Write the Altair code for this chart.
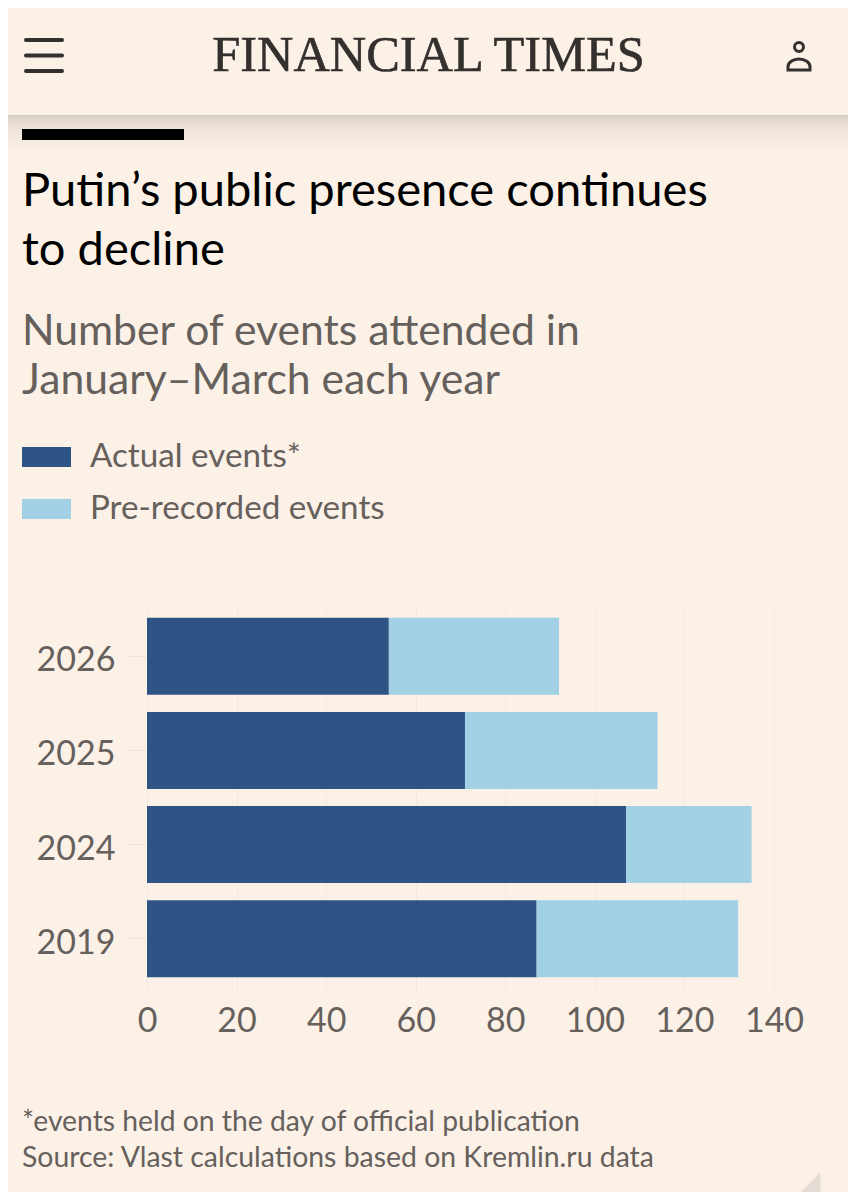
import altair as alt
import pandas as pd

years = ["2026", "2025", "2024", "2019"]
actual = [54, 71, 107, 87]
prerecorded = [38, 43, 28, 45]
x_ticks = [0, 20, 40, 60, 80, 100, 120, 140]
series = ["Actual events*", "Pre-recorded events"]

BG = "#fcf1e7"
DARK = "#2e5485"
LIGHT = "#a2d0e5"
GREY = "#66605c"
INK = "#33302e"
PX0, PY0 = 147, 605

rows = []
for y, a, p in zip(years, actual, prerecorded):
    rows.append({"year": y, "series": series[0], "value": a, "rank": 0})
    rows.append({"year": y, "series": series[1], "value": p, "rank": 1})
df = pd.DataFrame(rows)

bars = alt.Chart(df).mark_bar().encode(
    y=alt.Y("year:N", sort=years, title=None,
            scale=alt.Scale(paddingInner=0.183, paddingOuter=0.135),
            axis=alt.Axis(domain=False, ticks=True, tickSize=21, tickColor="#f0e5da", tickWidth=1,
                          labelFontSize=34, labelColor=GREY, labelFont="Lato", labelPadding=11,
                          labelBaseline="middle", labelOffset=5)),
    x=alt.X("value:Q", stack="zero", title=None,
            scale=alt.Scale(domain=[0, 140], nice=False),
            axis=alt.Axis(values=x_ticks, domain=False, ticks=False, grid=True, gridColor="#f2e8de",
                          gridWidth=1, labelFontSize=34, labelColor=GREY, labelFont="Lato",
                          labelPadding=14, labelFlush=False, labelOverlap=False)),
    order=alt.Order("rank:Q"),
    color=alt.Color("series:N", sort=series,
                    scale=alt.Scale(domain=series, range=[DARK, LIGHT]),
                    legend=alt.Legend(orient="none", legendX=22 - PX0, legendY=437 - PY0, title=None,
                                      symbolType="M-1,-0.41H1V0.41H-1Z", symbolSize=2400,
                                      symbolOpacity=1, symbolStrokeWidth=0,
                                      labelFontSize=33.2, labelColor=GREY, labelFont="Lato",
                                      labelOffset=19, rowPadding=12, labelLimit=400,
                                      clipHeight=40)),
)


def txt(s, px, py, size, color, font="Lato", **kw):
    return alt.Chart().mark_text(text=s, font=font, fontSize=size, color=color,
                                 align=kw.pop("align", "left"), baseline="alphabetic", **kw).encode(
        x=alt.value(px - PX0), y=alt.value(py - PY0))


def box(x1, x2, y1, y2, fill):
    return alt.Chart().mark_rect(color=fill).encode(
        x=alt.value(x1 - PX0), x2=alt.value(x2 - PX0), y=alt.value(y1 - PY0), y2=alt.value(y2 - PY0))


def icon(px, py, shape, size, fill=None, stroke=None, sw=0):
    kw = {"filled": fill is not None, "opacity": 1}
    if fill:
        kw["fill"] = fill
    if stroke:
        kw["stroke"] = stroke
        kw["strokeWidth"] = sw
    return alt.Chart().mark_point(shape=shape, size=size, **kw).encode(
        x=alt.value(px - PX0), y=alt.value(py - PY0))


shadow = alt.LinearGradient(gradient="linear", x1=0, x2=0, y1=0, y2=1,
                            stops=[alt.GradientStop(color="#d6cdc3", offset=0),
                                   alt.GradientStop(color="#ece2d8", offset=0.3),
                                   alt.GradientStop(color=BG, offset=1)])

decor = [
    box(8, 848, 115, 150, shadow),
    box(22, 184, 129, 140, "#000000"),
    txt("FINANCIAL TIMES", 428.5, 71, 50.4, INK, font="Liberation Serif", align="center", stroke=INK, strokeWidth=0.6),
    txt("Putin’s public presence continues", 22, 206, 47.1, "#000000"),
    txt("to decline", 22, 265, 47.1, "#000000"),
    txt("Number of events attended in", 22, 345, 42.7, GREY),
    txt("January–March each year", 22, 394, 42.7, GREY),
    txt("*events held on the day of official publication", 22, 1131, 28.3, GREY),
    txt("Source: Vlast calculations based on Kremlin.ru data", 22, 1167, 28.4, GREY),
    icon(799, 47, "circle", 80, stroke=INK, sw=3),
    icon(799, 64.5, "M-1,0.5V0.2A1,0.7 0 0 1 1,0.2V0.5Z", 484, stroke=INK, sw=3),
    icon(808, 1185, "M1,-1V1H-1Z", 620, fill="#e4dcd4"),
]
for yy in (40, 55.5, 71):
    decor.append(alt.Chart().mark_rule(color=INK, strokeWidth=4, strokeCap="round").encode(
        x=alt.value(26 - PX0), x2=alt.value(62 - PX0), y=alt.value(yy - PY0)))

chart = alt.layer(*decor, bars).properties(
    width=627, height=385, background=BG,
    padding={"left": PX0 - 8, "top": PY0 - 8, "right": 74, "bottom": 202},
    autosize=alt.AutoSizeParams(type="none"),
).configure_view(stroke=None)

chart.save("out.html", embed_options={"renderer": "svg", "actions": False})
